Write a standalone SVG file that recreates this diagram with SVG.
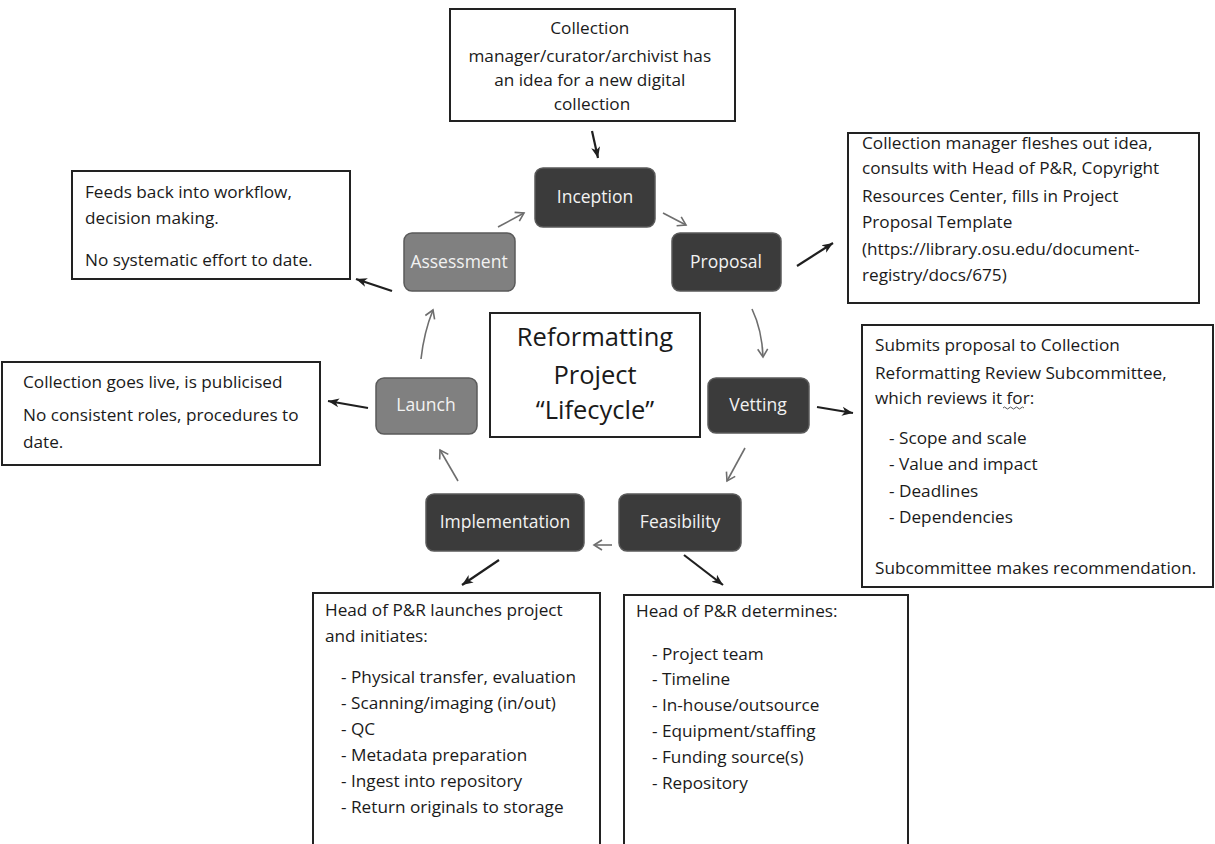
<svg xmlns="http://www.w3.org/2000/svg" width="1215" height="844" viewBox="0 0 1215 844">
  <defs>
    <style>
      .note { fill: #ffffff; stroke: #222222; stroke-width: 2; }
      .notetext { font-family: "Open Sans", Lato, sans-serif; font-size: 17.2px; fill: #1a1a1a; }
      .stage { stroke: #5a5a5a; stroke-width: 1.5; }
      .dark { fill: #3b3b3b; }
      .light { fill: #808080; }
      .stagetext { font-family: "Open Sans", sans-serif; font-size: 17.5px; fill: #f2f2f2; text-anchor: middle; }
      .title { font-family: "Open Sans", Lato, sans-serif; font-size: 25.5px; fill: #1a1a1a; text-anchor: middle; }
      .cycle { fill: none; stroke: #6e6e6e; stroke-width: 1.6; marker-end: url(#open); }
      .link { fill: none; stroke: #1f1f1f; stroke-width: 2.2; marker-end: url(#solid); }
    </style>
    <marker id="open" viewBox="0 0 12 12" refX="10" refY="6" markerWidth="12" markerHeight="12" markerUnits="userSpaceOnUse" orient="auto">
      <path d="M2,1 L10,6 L2,11" fill="none" stroke="#6e6e6e" stroke-width="1.6"/>
    </marker>
    <marker id="solid" viewBox="0 0 12 12" refX="11" refY="6" markerWidth="12" markerHeight="12" markerUnits="userSpaceOnUse" orient="auto">
      <path d="M0,1.5 L11,6 L0,10.5 L3,6 Z" fill="#1f1f1f"/>
    </marker>
  </defs>

  <rect width="1215" height="844" fill="#ffffff"/>

  <!-- connectors -->
  <g id="connectors">
    <!-- cycle arrows between stages -->
    <path class="cycle" d="M663,213 L686,225"/>
    <path class="cycle" d="M752,309 Q762,330 763,357"/>
    <path class="cycle" d="M745,448 L727,481"/>
    <path class="cycle" d="M612,545 L594,545"/>
    <path class="cycle" d="M458,481 L440,450"/>
    <path class="cycle" d="M421,359 Q424,332 433,310"/>
    <path class="cycle" d="M498,227 L524,213"/>
    <!-- arrows out to the notes -->
    <path class="link" d="M592,131 L598,158"/>
    <path class="link" d="M797,266 L833,243"/>
    <path class="link" d="M817,407 L853,413"/>
    <path class="link" d="M684,555 L723,585"/>
    <path class="link" d="M499,560 L462,585"/>
    <path class="link" d="M368,408 L328,401"/>
    <path class="link" d="M392,291 L356,279"/>
  </g>

  <!-- lifecycle stages -->
  <g id="inception">
    <rect class="stage dark" x="535" y="168" width="120" height="59" rx="8"/>
    <text class="stagetext" x="595" y="203">Inception</text>
  </g>
  <g id="proposal">
    <rect class="stage dark" x="672" y="233" width="109" height="58" rx="8"/>
    <text class="stagetext" x="726" y="268">Proposal</text>
  </g>
  <g id="vetting">
    <rect class="stage dark" x="708" y="378" width="101" height="55" rx="8"/>
    <text class="stagetext" x="758" y="411">Vetting</text>
  </g>
  <g id="feasibility">
    <rect class="stage dark" x="619" y="494" width="122" height="57" rx="8"/>
    <text class="stagetext" x="680" y="528">Feasibility</text>
  </g>
  <g id="implementation">
    <rect class="stage dark" x="426" y="494" width="158" height="57" rx="8"/>
    <text class="stagetext" x="505" y="528">Implementation</text>
  </g>
  <g id="launch">
    <rect class="stage light" x="376" y="378" width="101" height="56" rx="8"/>
    <text class="stagetext" x="426" y="411">Launch</text>
  </g>
  <g id="assessment">
    <rect class="stage light" x="404" y="233" width="111" height="58" rx="8"/>
    <text class="stagetext" x="459" y="268">Assessment</text>
  </g>

  <!-- centre title -->
  <g id="title">
    <rect class="note" x="490" y="313" width="210" height="124"/>
    <text class="title" x="595" y="346">Reformatting</text>
    <text class="title" x="595" y="384">Project</text>
    <text class="title" x="595" y="419">“Lifecycle”</text>
  </g>

  <!-- notes -->
  <g id="note-inception">
    <rect class="note" x="450" y="9" width="285" height="112"/>
    <text class="notetext" text-anchor="middle">
      <tspan x="592" y="34">Collection</tspan>
      <tspan x="592" y="62">manager/curator/archivist has</tspan>
      <tspan x="592" y="86">an idea for a new digital</tspan>
      <tspan x="592" y="110">collection</tspan>
    </text>
  </g>

  <g id="note-proposal">
    <rect class="note" x="848" y="133" width="351" height="170"/>
    <text class="notetext">
      <tspan x="862" y="149">Collection manager fleshes out idea,</tspan>
      <tspan x="862" y="174">consults with Head of P&amp;R, Copyright</tspan>
      <tspan x="862" y="202">Resources Center, fills in Project</tspan>
      <tspan x="862" y="228">Proposal Template</tspan>
      <tspan x="862" y="255">(https://library.osu.edu/document-</tspan>
      <tspan x="862" y="281">registry/docs/675)</tspan>
    </text>
  </g>

  <g id="note-vetting">
    <rect class="note" x="862" y="325" width="351" height="262"/>
    <text class="notetext">
      <tspan x="875" y="351">Submits proposal to Collection</tspan>
      <tspan x="875" y="379">Reformatting Review Subcommittee,</tspan>
      <tspan x="875" y="404">which reviews it for:</tspan>
      <tspan x="889" y="444">- Scope and scale</tspan>
      <tspan x="889" y="470">- Value and impact</tspan>
      <tspan x="889" y="497">- Deadlines</tspan>
      <tspan x="889" y="523">- Dependencies</tspan>
      <tspan x="875" y="574">Subcommittee makes recommendation.</tspan>
    </text>
    <!-- spell-check squiggle under "for" -->
    <path d="M1003,408 q1.5,-2 3,0 t3,0 t3,0 t3,0 t3,0 t3,0 t3,0" fill="none" stroke="#555555" stroke-width="1"/>
  </g>

  <g id="note-feasibility">
    <rect class="note" x="624" y="595" width="284" height="260"/>
    <text class="notetext">
      <tspan x="636" y="617">Head of P&amp;R determines:</tspan>
      <tspan x="652" y="660">- Project team</tspan>
      <tspan x="652" y="685">- Timeline</tspan>
      <tspan x="652" y="711">- In-house/outsource</tspan>
      <tspan x="652" y="737">- Equipment/staffing</tspan>
      <tspan x="652" y="763">- Funding source(s)</tspan>
      <tspan x="652" y="789">- Repository</tspan>
    </text>
  </g>

  <g id="note-implementation">
    <rect class="note" x="313" y="593" width="287" height="262"/>
    <text class="notetext">
      <tspan x="325" y="616">Head of P&amp;R launches project</tspan>
      <tspan x="325" y="642">and initiates:</tspan>
      <tspan x="341" y="683">- Physical transfer, evaluation</tspan>
      <tspan x="341" y="709">- Scanning/imaging (in/out)</tspan>
      <tspan x="341" y="735">- QC</tspan>
      <tspan x="341" y="761">- Metadata preparation</tspan>
      <tspan x="341" y="787">- Ingest into repository</tspan>
      <tspan x="341" y="813">- Return originals to storage</tspan>
    </text>
  </g>

  <g id="note-launch">
    <rect class="note" x="2" y="362" width="318" height="103"/>
    <text class="notetext">
      <tspan x="23" y="388">Collection goes live, is publicised</tspan>
      <tspan x="23" y="421">No consistent roles, procedures to</tspan>
      <tspan x="23" y="448">date.</tspan>
    </text>
  </g>

  <g id="note-assessment">
    <rect class="note" x="72" y="171" width="278" height="108"/>
    <text class="notetext">
      <tspan x="85" y="198">Feeds back into workflow,</tspan>
      <tspan x="85" y="224">decision making.</tspan>
      <tspan x="85" y="266">No systematic effort to date.</tspan>
    </text>
  </g>
</svg>
